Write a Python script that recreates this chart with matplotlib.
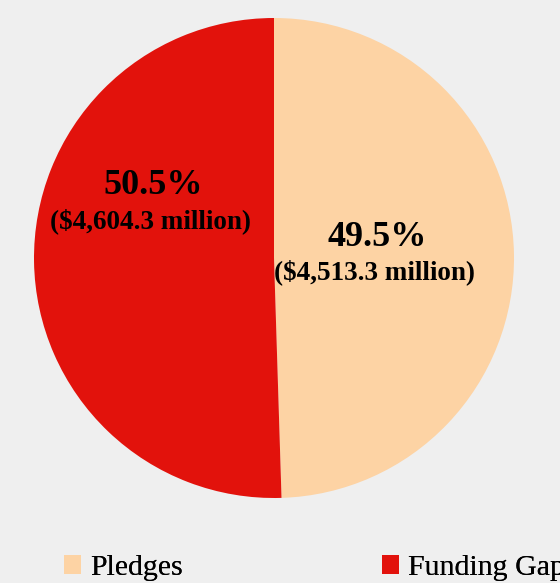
import matplotlib
matplotlib.use("Agg")
import matplotlib.pyplot as plt
from matplotlib.patches import Patch

categories = ["Pledges", "Funding Gap"]
values = [4513.3, 4604.3]
percent_labels = ["49.5%", "50.5%"]
amount_labels = ["($4,513.3 million)", "($4,604.3 million)"]
colors = ["#fdd3a4", "#e2120c"]

plt.rcParams['font.family'] = ['Liberation Serif', 'DejaVu Serif']

W, H = 560, 583
fig = plt.figure(figsize=(W / 100, H / 100), dpi=100)
fig.patch.set_facecolor("#efefef")

cx, cy, r = 274, 258, 240
ax = fig.add_axes([(cx - r) / W, (H - cy - r) / H, 2 * r / W, 2 * r / H])
ax.set_facecolor("#efefef")
ax.pie(values, colors=colors, startangle=90, counterclock=False,
       wedgeprops=dict(linewidth=0))
ax.set_xlim(-1, 1)
ax.set_ylim(-1, 1)
ax.set_aspect("equal")
ax.axis("off")

# label positions (axes data units)
label_pos = [(0.43, 0.085), (-0.505, 0.30)]
for (x, y), p, a in zip(label_pos, percent_labels, amount_labels):
    ax.text(x, y, p, ha="center", va="center", fontsize=26, fontweight="bold")
    ax.text(x - 0.01, y - 0.145, a, ha="center", va="center", fontsize=19.5, fontweight="bold")

legend_x = [64, 382]
for cat, col, lx in zip(categories, colors, legend_x):
    leg = fig.legend([Patch(facecolor=col, edgecolor="none")], [cat],
                     loc="center left", bbox_to_anchor=(lx / W, 1 - 568 / H),
                     frameon=False, fontsize=21.5, handlelength=0.58, handleheight=0.58,
                     handletextpad=0.3, borderpad=0, borderaxespad=0)
    fig.add_artist(leg)

fig.savefig("out.png", dpi=100, facecolor=fig.get_facecolor())
